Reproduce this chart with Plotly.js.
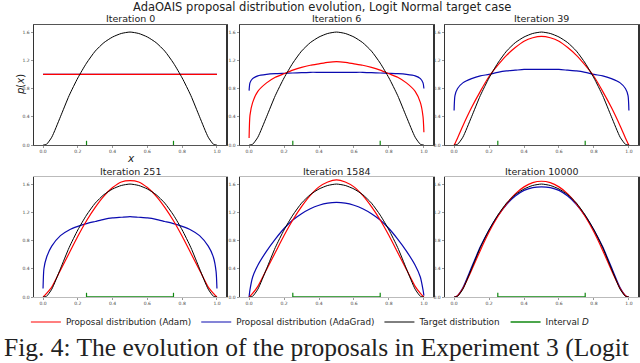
<!DOCTYPE html>
<html>
<head>
<meta charset="utf-8">
<script src="https://cdn.plot.ly/plotly-3.0.1.min.js"></script>
<style>
  html, body { margin: 0; padding: 0; background: #fff; }
  #chart { width: 640px; height: 363px; }
</style>
</head>
<body>
<div id="chart"></div>
<script>
// x grid shared by all curves (denser at the edges)
var xs = [0, 0.005, 0.02, 0.05, 0.1, 0.15, 0.2, 0.25, 0.3, 0.35, 0.4, 0.45, 0.5,
          0.55, 0.6, 0.65, 0.7, 0.75, 0.8, 0.85, 0.9, 0.95, 0.98, 0.995, 1];

// target: logit normal density
var target = [0, 0, 0.01, 0.11, 0.40, 0.70, 0.95, 1.16, 1.33, 1.45, 1.53, 1.58, 1.60,
              1.58, 1.53, 1.45, 1.33, 1.16, 0.95, 0.70, 0.40, 0.11, 0.01, 0, 0];

var iterations = ['Iteration 0', 'Iteration 6', 'Iteration 39',
                  'Iteration 251', 'Iteration 1584', 'Iteration 10000'];

// proposal distribution (Adam), one array per panel
var adam0 = [1, 1, 1, 1, 1, 1, 1, 1, 1, 1, 1, 1, 1, 1, 1, 1, 1, 1, 1, 1, 1, 1, 1, 1, 1];
var adam6 = [0.10, 0.42, 0.60, 0.76, 0.88, 0.96, 1.01, 1.06, 1.10, 1.13, 1.15, 1.17, 1.18,
             1.17, 1.15, 1.13, 1.10, 1.06, 1.01, 0.96, 0.88, 0.76, 0.60, 0.40, 0.18];
var adam39 = [0, 0.02, 0.10, 0.27, 0.53, 0.76, 0.97, 1.13, 1.27, 1.38, 1.47, 1.52, 1.54,
              1.52, 1.47, 1.38, 1.27, 1.13, 0.97, 0.76, 0.53, 0.27, 0.10, 0.02, 0];
var adam251 = [0, 0.01, 0.05, 0.14, 0.38, 0.62, 0.86, 1.08, 1.27, 1.43, 1.55, 1.63, 1.65,
               1.63, 1.55, 1.43, 1.27, 1.08, 0.86, 0.62, 0.38, 0.14, 0.05, 0.01, 0];
var adam1584 = [0, 0.01, 0.05, 0.15, 0.39, 0.63, 0.87, 1.09, 1.28, 1.44, 1.56, 1.63, 1.66,
                1.63, 1.56, 1.44, 1.28, 1.09, 0.87, 0.63, 0.39, 0.15, 0.05, 0.01, 0];
var adam10000 = [0, 0, 0.02, 0.12, 0.38, 0.66, 0.92, 1.14, 1.32, 1.46, 1.56, 1.62, 1.64,
                 1.62, 1.56, 1.46, 1.32, 1.14, 0.92, 0.66, 0.38, 0.12, 0.02, 0, 0];

// proposal distribution (AdaGrad)
var adagrad0 = [1, 1, 1, 1, 1, 1, 1, 1, 1, 1, 1, 1, 1, 1, 1, 1, 1, 1, 1, 1, 1, 1, 1, 1, 1];
var adagrad6 = [0.77, 0.88, 0.94, 0.98, 1.00, 1.01, 1.015, 1.02, 1.025, 1.03, 1.03, 1.03, 1.03,
                1.03, 1.03, 1.03, 1.025, 1.02, 1.015, 1.01, 1.00, 0.98, 0.94, 0.88, 0.80];
var adagrad39 = [0.49, 0.70, 0.80, 0.88, 0.94, 0.98, 1.00, 1.03, 1.05, 1.06, 1.07, 1.07, 1.07,
                 1.07, 1.07, 1.06, 1.05, 1.03, 1.00, 0.98, 0.94, 0.88, 0.80, 0.70, 0.49];
var adagrad251 = [0.12, 0.40, 0.56, 0.72, 0.87, 0.95, 1.00, 1.04, 1.07, 1.10, 1.12, 1.13, 1.14,
                  1.13, 1.12, 1.10, 1.07, 1.04, 1.00, 0.95, 0.87, 0.72, 0.56, 0.36, 0.12];
var adagrad1584 = [0, 0.10, 0.28, 0.45, 0.65, 0.82, 0.97, 1.09, 1.18, 1.25, 1.30, 1.33, 1.34,
                   1.33, 1.30, 1.25, 1.18, 1.09, 0.97, 0.82, 0.65, 0.45, 0.28, 0.10, 0.02];
var adagrad10000 = [0, 0, 0.02, 0.13, 0.42, 0.71, 0.95, 1.15, 1.31, 1.43, 1.51, 1.55, 1.56,
                    1.55, 1.51, 1.43, 1.31, 1.15, 0.95, 0.71, 0.42, 0.13, 0.02, 0, 0];

var adam = [adam0, adam6, adam39, adam251, adam1584, adam10000];
var adagrad = [adagrad0, adagrad6, adagrad39, adagrad251, adagrad1584, adagrad10000];

// interval D
var intervalX = [0.25, 0.75];
var intervalY = [0, 0];

var xTicks = [0, 0.2, 0.4, 0.6, 0.8, 1.0];
var yTicks = [0, 0.4, 0.8, 1.2, 1.6];

var RED = '#ff0000', BLUE = '#0a0ab0', BLACK = '#000000', GREEN = '#118811';

var data = [];
for (var i = 0; i < 6; i++) {
  var xa = 'x' + (i === 0 ? '' : i + 1);
  var ya = 'y' + (i === 0 ? '' : i + 1);
  var first = (i === 0);
  data.push({
    x: xs, y: adagrad[i], xaxis: xa, yaxis: ya, mode: 'lines',
    line: {color: BLUE, width: 1.2, shape: 'spline', smoothing: 0.6},
    name: 'Proposal distribution (AdaGrad)', legendgroup: 'b', showlegend: first, legendrank: 2
  });
  data.push({
    x: xs, y: adam[i], xaxis: xa, yaxis: ya, mode: 'lines',
    line: {color: RED, width: 1.2, shape: 'spline', smoothing: 0.6},
    name: 'Proposal distribution (Adam)', legendgroup: 'a', showlegend: first, legendrank: 1
  });
  data.push({
    x: xs, y: target, xaxis: xa, yaxis: ya, mode: 'lines',
    line: {color: BLACK, width: 1, shape: 'spline', smoothing: 0.6},
    name: 'Target distribution', legendgroup: 't', showlegend: first, legendrank: 3
  });
  // top row: the horizontal part sits under the bottom spine, only the end ticks show
  data.push({
    x: intervalX, y: intervalY, xaxis: xa, yaxis: ya,
    mode: i < 3 ? 'markers' : 'lines+markers',
    line: {color: GREEN, width: 1.3},
    marker: {symbol: 'line-ns-open', size: 6, color: GREEN, line: {color: GREEN, width: 1.2}},
    name: 'Interval <i>D</i>', legendgroup: 'g', showlegend: false
  });
}
// legend entry for the interval (plain line like the others)
data.push({
  x: [null], y: [null], mode: 'lines', line: {color: GREEN, width: 1.3},
  name: 'Interval <i>D</i>', legendgroup: 'g', showlegend: true, legendrank: 4
});

var W = 640, H = 363;
var xDom = [[34, 226], [240, 433], [445, 638]];
var yDom = [[25, 145], [177, 297]];

var layout = {
  width: W, height: H,
  margin: {l: 0, r: 0, t: 0, b: 0},
  paper_bgcolor: '#fff', plot_bgcolor: '#fff',
  font: {family: 'DejaVu Sans', color: '#222'},
  showlegend: true,
  legend: {
    orientation: 'h', x: 0.485, xanchor: 'center', y: 1 - 322 / H, yanchor: 'middle',
    font: {size: 8.8, family: 'DejaVu Sans', color: '#222'},
    traceorder: 'normal', itemwidth: 30, tracegroupgap: 0,
    bordercolor: '#eee', borderwidth: 0
  },
  annotations: [],
  title: {text: ''}
};

for (var k = 0; k < 6; k++) {
  var row = Math.floor(k / 3), col = k % 3;
  var suffix = (k === 0 ? '' : k + 1);
  var xd = xDom[col], yd = yDom[row];
  layout['xaxis' + suffix] = {
    domain: [xd[0] / W, xd[1] / W],
    anchor: 'y' + suffix,
    range: [-0.052, 1.052],
    tickvals: xTicks, ticktext: xTicks.map(function (v) { return v.toFixed(1); }),
    ticks: 'outside', ticklen: 2, tickwidth: 0.6, tickcolor: '#555',
    tickfont: {size: 4.5, color: '#444'},
    showgrid: false, zeroline: false,
    showline: true, mirror: true, linecolor: row === 0 ? '#555' : '#bbb', linewidth: 1,
    layer: row === 0 ? 'above traces' : 'below traces'
  };
  layout['yaxis' + suffix] = {
    domain: [1 - yd[1] / H, 1 - yd[0] / H],
    anchor: 'x' + suffix,
    range: [0, 1.7],
    tickvals: yTicks, ticktext: yTicks.map(function (v) { return v.toFixed(1); }),
    ticks: 'outside', ticklen: 2, tickwidth: 0.6, tickcolor: '#555',
    tickfont: {size: 4.5, color: '#444'},
    showgrid: false, zeroline: false,
    showline: true, mirror: true, linecolor: '#333', linewidth: 1.5
  };
  layout.annotations.push({
    text: iterations[k], xref: 'paper', yref: 'paper',
    x: (xd[0] + xd[1]) / 2 / W, y: 1 - (yd[0] - 6) / H,
    xanchor: 'center', yanchor: 'middle', showarrow: false,
    font: {size: 9.5, color: '#222'}
  });
}

// axis labels of the first panel
layout.annotations.push({
  text: '<i>x</i>', xref: 'paper', yref: 'paper', x: 131 / W, y: 1 - 158 / H,
  xanchor: 'center', yanchor: 'middle', showarrow: false,
  font: {size: 10.5, color: '#222'}
});
layout.annotations.push({
  text: '<i>p</i>(<i>x</i>)', xref: 'paper', yref: 'paper', x: 20 / W, y: 1 - 85 / H,
  xanchor: 'center', yanchor: 'middle', showarrow: false, textangle: -90,
  font: {size: 10, color: '#222'}
});

layout.annotations.push({
  text: 'AdaOAIS proposal distribution evolution, Logit Normal target case',
  xref: 'paper', yref: 'paper', x: 322 / W, y: 1 - 7 / H,
  xanchor: 'center', yanchor: 'middle', showarrow: false,
  font: {size: 11.5, color: '#222'}
});
layout.annotations.push({
  text: 'Fig. 4: The evolution of the proposals in Experiment 3 (Logit',
  xref: 'paper', yref: 'paper', x: 2 / W, y: 1 - 347 / H,
  xanchor: 'left', yanchor: 'middle', showarrow: false, align: 'left',
  font: {size: 25.5, family: 'Liberation Serif', color: '#222'}
});

Plotly.newPlot('chart', data, layout, {staticPlot: true});
</script>
</body>
</html>
